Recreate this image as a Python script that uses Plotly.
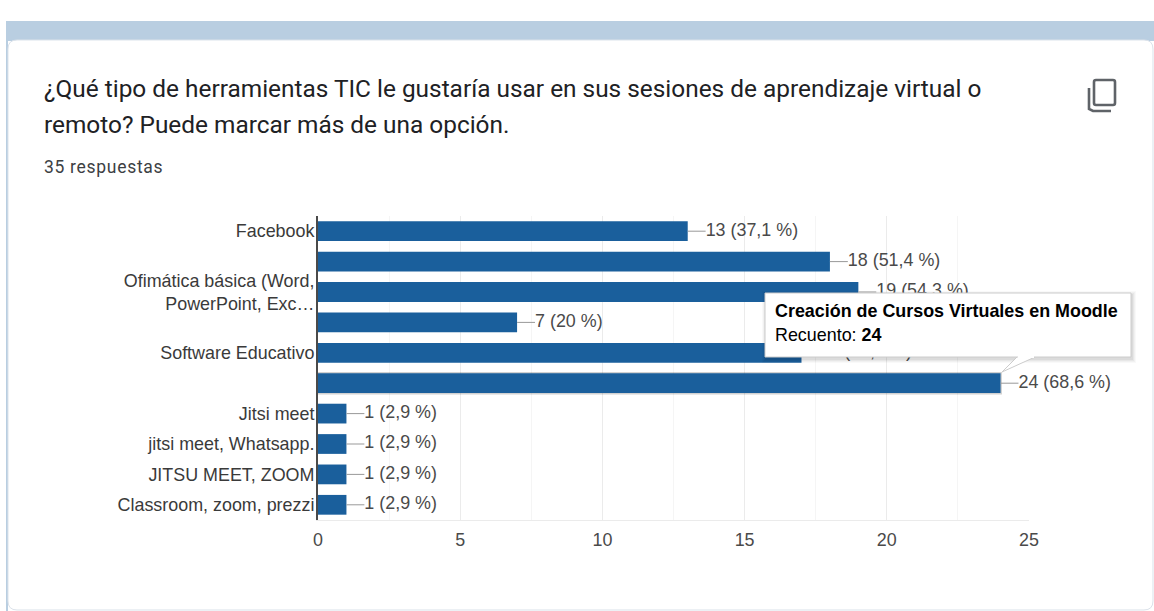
import plotly.graph_objects as go

W, H = 1154, 611
PL, PR, PT, PB = 318, 1029, 216, 520
categories = ["Facebook", "", "Ofimática básica (Word,<br>PowerPoint, Exc…", "", "Software Educativo", "",
              "Jitsi meet", "jitsi meet, Whatsapp.", "JITSU MEET, ZOOM", "Classroom, zoom, prezzi"]
values = [13, 18, 19, 7, 17, 24, 1, 1, 1, 1]
value_labels = ["13 (37,1 %)", "18 (51,4 %)", "19 (54,3 %)", "7 (20 %)", "17 (48,6 %)", "24 (68,6 %)",
                "1 (2,9 %)", "1 (2,9 %)", "1 (2,9 %)", "1 (2,9 %)"]
x_ticks = [0, 5, 10, 15, 20, 25]
minor_ticks = [2.5, 7.5, 12.5, 17.5, 22.5]
highlight = 5
tooltip_name = "Creación de Cursos Virtuales en Moodle"
tooltip_label = "Recuento: "
title_lines = ["¿Qué tipo de herramientas TIC le gustaría usar en sus sesiones de aprendizaje virtual o",
               "remoto? Puede marcar más de una opción."]
subtitle = "35 respuestas"
rows = list(range(len(values)))
LEADER = 0.63

def X(p): return (p - PL) / (PR - PL)
def Y(p): return (PB - p) / (PB - PT)
def rect(x0, y0, x1, y1, **kw):
    return dict(type="rect", xref="paper", yref="paper", x0=X(x0), x1=X(x1), y0=Y(y0), y1=Y(y1),
                line=dict(width=0), **kw)
def path(pts, close=True, **kw):
    d = "M " + " L ".join(f"{X(a):.5f},{Y(b):.5f}" for a, b in pts) + (" Z" if close else "")
    return dict(type="path", xref="paper", yref="paper", path=d, **kw)
def rounded(x0, y0, x1, y1, r, **kw):
    f = lambda a, b: f"{X(a):.5f},{Y(b):.5f}"
    d = (f"M {f(x0+r,y0)} L {f(x1-r,y0)} Q {f(x1,y0)} {f(x1,y0+r)} L {f(x1,y1-r)} Q {f(x1,y1)} {f(x1-r,y1)} "
         f"L {f(x0+r,y1)} Q {f(x0,y1)} {f(x0,y1-r)} L {f(x0,y0+r)} Q {f(x0,y0)} {f(x0+r,y0)} Z")
    return dict(type="path", xref="paper", yref="paper", path=d, **kw)

BAR = "#1a5f9c"
fig = go.Figure()
fig.add_bar(x=[values[highlight] + 0.05], y=[rows[highlight]], orientation="h", width=0.74,
            marker=dict(color="rgba(0,0,0,0.18)", line=dict(width=0)), hoverinfo="skip")
fig.add_bar(x=values, y=rows, orientation="h", width=0.65,
            marker=dict(color=BAR, line=dict(width=0)), hoverinfo="skip")
lx, ly = [], []
for v, r in zip(values, rows):
    lx += [v, v + LEADER, None]; ly += [r, r, None]
fig.add_scatter(x=lx, y=ly, mode="lines", line=dict(color="#999999", width=1), hoverinfo="skip")
fig.add_scatter(x=[v + LEADER for v in values], y=rows, mode="text", text=value_labels,
                textposition="middle right", textfont=dict(family="Liberation Sans", size=17.9, color="#4a4a4a"),
                hoverinfo="skip", cliponaxis=False)

band = "#b9cee1"
under = [
    rect(6, 21, W, 41, fillcolor=band, layer="below"),
    rect(6, 41, 8, 611, fillcolor=band, layer="below"),
    rounded(8, 40, W - 1, 610, 9, fillcolor="white", line=dict(width=1, color="#dbe2ea"), layer="below"),
    rounded(6, -20, W - 1, 21, 9, fillcolor="white", line=dict(width=0), layer="below"),
]
over = []
for g, a in [(4, 0.025), (3, 0.03), (2, 0.04), (1, 0.05)]:
    over.append(rect(765 - g + 1, 293 - g + 2, 1131 + g + 1, 357 + g + 2, fillcolor=f"rgba(0,0,0,{a})", layer="above"))
over.append(path([(1017, 357), (1002, 372), (1035, 357)], close=False, fillcolor="white",
                 line=dict(width=1, color="#cccccc"), layer="above"))
over.append(dict(type="rect", xref="paper", yref="paper", x0=X(765), x1=X(1131), y0=Y(293), y1=Y(357),
                 fillcolor="white", line=dict(width=1, color="#cccccc"), layer="above"))
over.append(rect(1018, 355.5, 1034, 358, fillcolor="white", layer="above"))
icon = "#5f6368"
over.append(rounded(1094, 80, 1115, 105, 2, fillcolor="rgba(0,0,0,0)", line=dict(width=2.6, color=icon), layer="above"))
over.append(path([(1089, 88), (1089, 109), (1093, 111), (1111, 111)], close=False, fillcolor="rgba(0,0,0,0)",
                 line=dict(width=2.6, color=icon), layer="above"))

def note(x, y, text, size, color, family="Roboto", **kw):
    return dict(xref="paper", yref="paper", x=X(x), y=Y(y), text=text, showarrow=False, xanchor="left",
                yanchor="middle", align="left", xshift=-2, font=dict(family=family, size=size, color=color), **kw)

notes = [
    note(44, 89, title_lines[0], 24.4, "#202124"),
    note(44, 125, title_lines[1], 24.4, "#202124"),
    note(44, 167, subtitle, 17.5, "#3c4043"),
    note(775, 311, f"<b>{tooltip_name}</b>", 17.9, "#000000", family="Liberation Sans"),
    note(775, 335, f"{tooltip_label}<b>{values[highlight]}</b>", 17.9, "#000000", family="Liberation Sans"),
]

fig.update_layout(
    width=W, height=H, autosize=False, showlegend=False, barmode="overlay",
    paper_bgcolor="white", plot_bgcolor="white",
    margin=dict(l=PL, r=W - PR, t=PT, b=H - PB),
    shapes=under + over, annotations=notes,
    xaxis=dict(range=[0, 25], tickvals=x_ticks, showgrid=True, gridcolor="#ebebeb", gridwidth=1,
               minor=dict(tickvals=minor_ticks, showgrid=True, gridcolor="#f5f5f5", gridwidth=1, ticklen=0),
               zeroline=False, ticks="", showline=True, linecolor="#ebebeb", linewidth=1, ticklabelstandoff=4,
               tickfont=dict(family="Liberation Sans", size=17.9, color="#4a4a4a")),
    yaxis=dict(range=[9.5, -0.5], tickvals=rows, ticktext=categories, showgrid=False, zeroline=False,
               ticks="", showline=True, linecolor="#4a4a4a", linewidth=2, ticklabelstandoff=-2,
               tickfont=dict(family="Liberation Sans", size=17.9, color="#3a3a3a")),
)

post = ("document.body.style.margin='0';document.body.style.overflow='hidden';"
        "document.querySelectorAll('.annotation-text').forEach(function(t){"
        "if(t.textContent==='%s'){t.style.letterSpacing='0.7px';}});" % subtitle)
fig.write_html("out.html", config=dict(displayModeBar=False), post_script=post)
